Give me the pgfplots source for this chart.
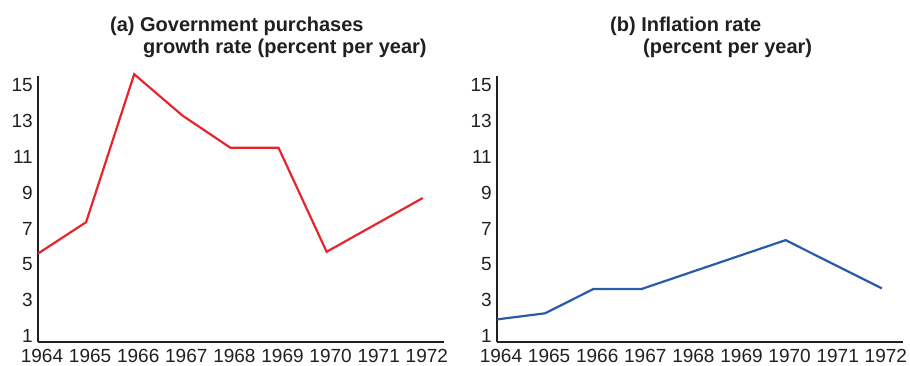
\documentclass[border=0pt]{standalone}
\usepackage{fontspec}
\setmainfont{Liberation Sans}
\usepackage{pgfplots}
\pgfplotsset{compat=1.18}
\definecolor{axred}{RGB}{230,38,45}
\definecolor{axblue}{RGB}{38,92,168}
\definecolor{axgray}{RGB}{35,31,32}
\pgfplotsset{
  panel/.style={
    scale only axis, width=406pt, height=266pt,
    anchor=south west,
    xmin=1964, xmax=1972.44, ymin=0.67, ymax=15.5,
    axis x line=bottom, axis y line=left,
    axis line style={-, line width=2pt, color=axgray},
    major tick length=0pt,
    xtick={1964,1965,...,1972},
    xticklabels={1964,1965,1966,1967,1968,1969,1970,1971,1972},
    ytick={1,3,5,7,9,11,13,15},
    /pgf/number format/assume math mode=true,
    ticklabel style={font=\fontsize{19}{21}\selectfont, text=axgray, inner sep=0pt},
    xticklabel style={anchor=north, yshift=-7pt, xshift=4pt},
    yticklabel style={anchor=east, xshift=-5pt},
    clip=false,
  }
}
\begin{document}
\begin{tikzpicture}[x=1pt,y=1pt]
\useasboundingbox (0,0) rectangle (910,365);
\begin{axis}[panel, at={(38pt,23pt)}]
\addplot[color=axred, line width=2.2pt, line join=miter] coordinates {
(1964,5.6) (1965,7.35) (1966,15.6) (1967,13.3) (1968,11.5) (1969,11.5) (1970,5.7) (1971,7.2) (1972,8.7)};
\end{axis}
\begin{axis}[panel, at={(497pt,23pt)}]
\addplot[color=axblue, line width=2.2pt, line join=miter] coordinates {
(1964,1.93) (1965,2.27) (1966,3.62) (1967,3.62) (1968,4.53) (1969,5.44) (1970,6.35) (1971,5.0) (1972,3.66)};
\end{axis}
\begin{scope}[every node/.style={inner sep=0pt, anchor=base west, text=axgray, font=\bfseries\fontsize{20}{22}\selectfont}]
\node at (110,333) {(a) Government purchases};
\node at (143,312) {growth rate (percent per year)};
\node at (610,333) {(b) Inflation rate};
\node at (643,312) {(percent per year)};
\end{scope}
\end{tikzpicture}
\end{document}
